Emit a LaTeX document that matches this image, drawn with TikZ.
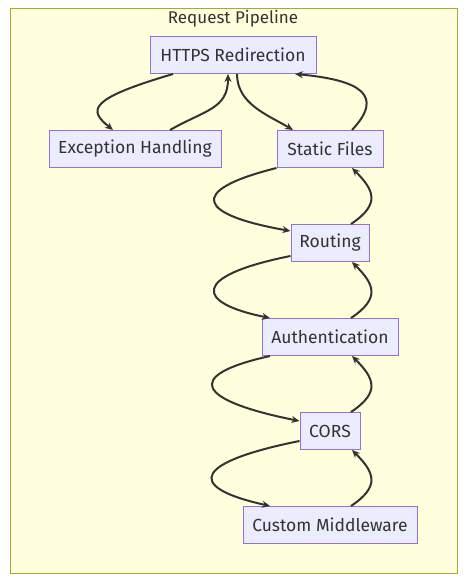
\documentclass[tikz,border=0pt]{standalone}
\usepackage{fontspec}
\setmainfont{Fira Sans}
\usetikzlibrary{calc,arrows.meta}
\definecolor{clfill}{HTML}{FFFFDE}
\definecolor{clborder}{HTML}{AAAA33}
\definecolor{nfill}{HTML}{ECECFF}
\definecolor{nborder}{HTML}{9370DB}
\definecolor{txt}{HTML}{333333}
\begin{document}
\begin{tikzpicture}[x=1pt,y=-1pt,
  box/.style={draw=nborder,fill=nfill,line width=1pt,minimum height=37pt,inner sep=0pt,text=txt,font=\fontsize{17.5}{20}\selectfont},
  e/.style={draw=txt,line width=2pt,-{Stealth[length=8pt,width=7pt]}}]
\useasboundingbox (0,0) rectangle (466,586);
\fill[white] (0,0) rectangle (466,586);
\node[draw=clborder,fill=clfill,line width=1pt,minimum width=447pt,minimum height=565pt,inner sep=0pt,anchor=north west] (cluster) at (10,8) {};
\node[text=txt,font=\fontsize{17}{20}\selectfont] (title) at (233,19) {Request Pipeline};
\node[box,minimum width=166pt] (https) at (233,55) {HTTPS Redirection};
\node[box,minimum width=172pt] (exc) at (135,149) {Exception Handling};
\node[box,minimum width=106pt] (static) at (330,149) {Static Files};
\node[box,minimum width=78pt] (routing) at (330,243) {Routing};
\node[box,minimum width=136pt] (auth) at (330,337) {Authentication};
\node[box,minimum width=60pt] (cors) at (330,431) {CORS};
\node[box,minimum width=174pt] (custom) at (330,525) {Custom Middleware};
% HTTPS <-> Exception
\draw[e] ($(https.south)+(-60,0)$) .. controls +(-85,25) and +(-25,-20) .. ($(exc.north)+(-22,0)$);
\draw[e] ($(exc.north)+(35,0)$) .. controls +(35,-20) and +(0,35) .. ($(https.south)+(-5,0)$);
% HTTPS <-> Static
\draw[e] ($(https.south)+(4,0)$) .. controls +(0,30) and +(-25,-15) .. ($(static.north)+(-37,0)$);
\draw[e] ($(static.north)+(22,0)$) .. controls +(33,-35) and +(65,6) .. ($(https.south)+(62,0)$);
% Static <-> Routing
\draw[e] (static.south west) .. controls +(-92,23) and +(-91,-16) .. ($(routing.west)+(0,-12)$);
\draw[e] ($(routing.north)+(21,0)$) .. controls +(30,-20) and +(22,22) .. ($(static.south)+(22,0)$);
% Routing <-> Authentication
\draw[e] ($(routing.west)+(0,13)$) .. controls +(-100,20) and +(-75,-15) .. ($(auth.north)+(-60,0)$);
\draw[e] ($(auth.north)+(21,0)$) .. controls +(30,-20) and +(22,22) .. ($(routing.south)+(22,0)$);
% Authentication <-> CORS
\draw[e] ($(auth.south)+(-60,0)$) .. controls +(-90,20) and +(-100,-20) .. ($(cors.west)+(0,-10)$);
\draw[e] ($(cors.north)+(21,0)$) .. controls +(30,-20) and +(22,22) .. ($(auth.south)+(22,0)$);
% CORS <-> Custom
\draw[e] ($(cors.west)+(0,10)$) .. controls +(-100,20) and +(-90,-20) .. ($(custom.north)+(-60,0)$);
\draw[e] ($(custom.north)+(21,0)$) .. controls +(30,-20) and +(22,22) .. ($(cors.south)+(22,0)$);
\end{tikzpicture}
\end{document}
